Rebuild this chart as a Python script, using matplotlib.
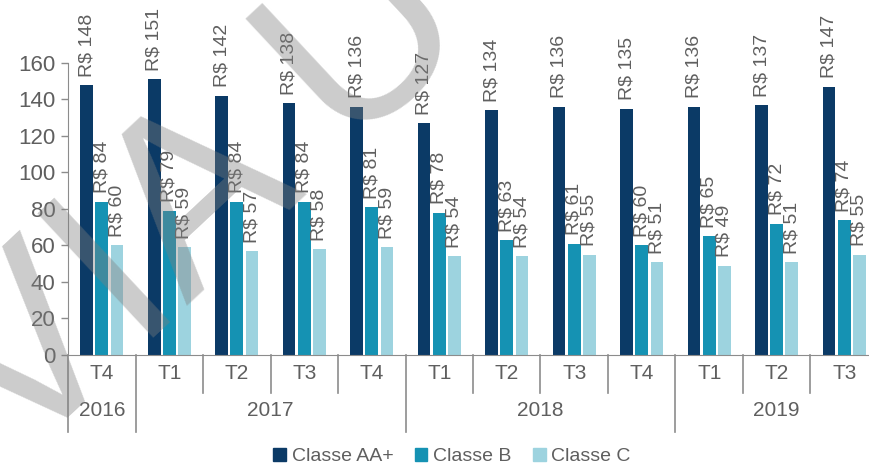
import matplotlib
matplotlib.use("Agg")
import matplotlib.pyplot as plt
import numpy as np
from matplotlib.patches import Patch

plt.rcParams['font.family'] = ['Liberation Sans', 'DejaVu Sans']

# rent per class, quarterly (R$)
quarters = ['T4', 'T1', 'T2', 'T3', 'T4', 'T1', 'T2', 'T3', 'T4', 'T1', 'T2', 'T3']
years = ['2016', '2017', '2018', '2019']
year_sizes = [1, 4, 4, 3]
classe_aa = [148, 151, 142, 138, 136, 127, 134, 136, 135, 136, 137, 147]
classe_b = [84, 79, 84, 84, 81, 78, 63, 61, 60, 65, 72, 74]
classe_c = [60, 59, 57, 58, 59, 54, 54, 55, 51, 49, 51, 55]

series = [('Classe AA+', classe_aa, '#0b3a66'),
          ('Classe B', classe_b, '#1592b3'),
          ('Classe C', classe_c, '#9dd3df')]

txt = '#5f5f5f'
line_c = '#8c8c8c'

fig = plt.figure(figsize=(8.69, 4.68), dpi=100)
ax = fig.add_axes([0.0783, 0.2415, 0.932, 0.624])

x = np.arange(len(quarters))
w = 0.19
offsets = [-0.225, 0, 0.225]
for (name, vals, col), off in zip(series, offsets):
    bars = ax.bar(x + off, vals, width=w, color=col, label=name, zorder=2)
    for b, v in zip(bars, vals):
        ax.annotate(f'R$ {v}', (b.get_x() + b.get_width() / 2, v),
                    xytext=(0, 6), textcoords='offset points',
                    rotation=90, ha='center', va='bottom',
                    fontsize=14, color=txt, zorder=3)

ax.set_ylim(0, 160)
ax.set_xlim(-0.5, len(quarters) - 0.5)
ax.set_yticks(range(0, 161, 20))
ax.tick_params(axis='y', labelsize=16, labelcolor=txt, color=line_c,
               length=5, width=1, pad=4)
ax.set_xticks([])
for s in ['top', 'right']:
    ax.spines[s].set_visible(False)
ax.spines['left'].set_color(line_c)
ax.spines['bottom'].set_color(line_c)

# two-level category axis
tr = ax.get_xaxis_transform()
for i, q in enumerate(quarters):
    ax.text(i, -0.062, q, transform=tr, ha='center', va='center',
            fontsize=15, color=txt)
bounds = np.cumsum([0] + year_sizes)
for k, yr in enumerate(years):
    ax.text((bounds[k] + bounds[k + 1] - 1) / 2, -0.19, yr, transform=tr,
            ha='center', va='center', fontsize=15, color=txt)
for i in range(len(quarters) + 1):
    pos = i - 0.5
    depth = -0.264 if i in bounds else -0.13
    ax.plot([pos, pos], [0, depth], transform=tr, color=line_c, lw=1.2,
            clip_on=False)

handles = [Patch(color=c, label=n) for n, _, c in series]
fig.legend(handles=handles, loc='center', bbox_to_anchor=(0.52, 0.025),
           ncol=3, frameon=False, fontsize=14, labelcolor=txt,
           handlelength=0.65, handleheight=0.65, handletextpad=0.3,
           columnspacing=1.1, borderpad=0)

# watermark
fig.text(0.0196, 0.0043, 'VIA U', rotation=43, rotation_mode='anchor',
         ha='left', va='baseline', fontsize=178, color='#7f7f7f',
         alpha=0.4, zorder=10)

fig.savefig('out.png', dpi=100)
